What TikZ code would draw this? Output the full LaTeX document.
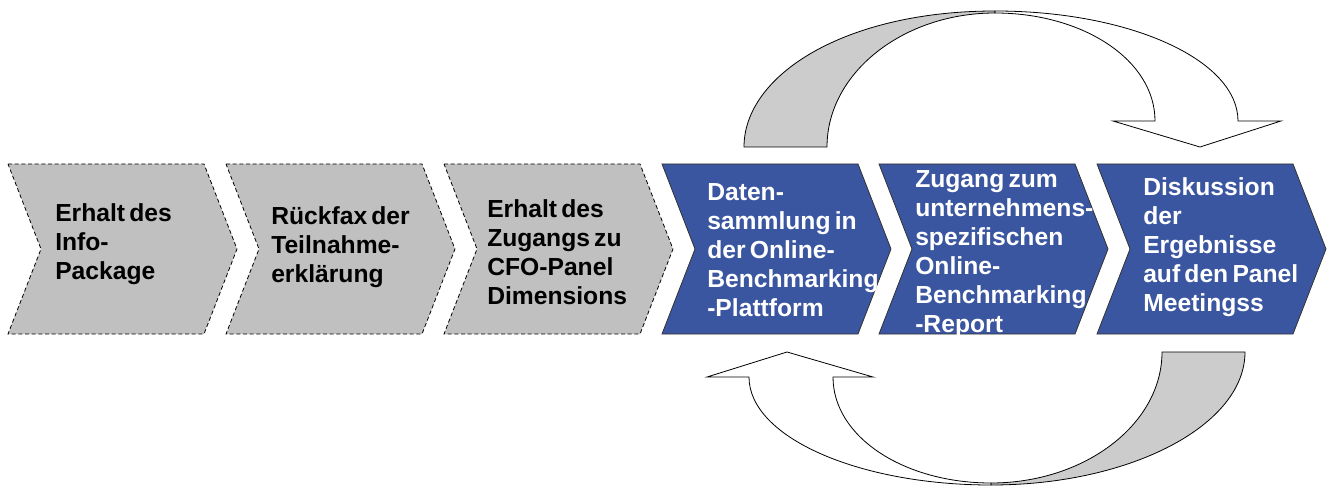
\documentclass[tikz,border=0pt]{standalone}
\usepackage{fontspec}
\setmainfont{Liberation Sans}

\definecolor{prozessblau}{RGB}{59,86,160}
\definecolor{prozessgrau}{RGB}{192,192,192}
\definecolor{pfeilgrau}{RGB}{204,204,204}

\newcommand{\schrift}{\bfseries\fontsize{18.5}{21.75}\selectfont\spaceskip=.17em}

\tikzset{
  grauschritt/.style = {draw=black, fill=prozessgrau, dash pattern=on 3pt off 2pt, line width=0.6pt},
  blauschritt/.style = {draw=black!80, fill=prozessblau, line width=0.6pt},
  grautext/.style = {anchor=west, align=left, inner sep=0pt, text=black, font=\schrift},
  blautext/.style = {grautext, text=white},
  pfeil/.style = {draw=black, line width=0.6pt, line join=miter}
}

\begin{document}
\begin{tikzpicture}[x=0.75pt, y=-0.75pt]
  \useasboundingbox (0,0) rectangle (1331,488);

  % Prozessschritte
  \foreach \L/\art in {8/grauschritt, 226/grauschritt, 444/grauschritt,
                       662/blauschritt, 879/blauschritt, 1097/blauschritt}
    \draw[\art] (\L,164) -- ++(196,0) -- ++(33,85) -- ++(-33,85)
                -- ++(-196,0) -- ++(33,-85) -- cycle;

  \node[grautext] (info) at (55,244) {Erhalt des\\Info-\\Package};
  \node[grautext] (rueckfax) at (271,247) {Rückfax der\\Teilnahme-\\erklärung};
  \node[grautext] (zugang) at (487,252) {Erhalt des\\Zugangs zu\\CFO-Panel\\Dimensions};
  \node[blautext] (daten) at (707,250) {Daten-\\sammlung in\\der Online-\\Benchmarking\\-Plattform};
  \node[blautext] (report) at (915,254) {Zugang zum\\unternehmens-\\spezifischen\\Online-\\Benchmarking\\-Report};
  \node[blautext] (diskussion) at (1143,247) {Diskussion\\der\\Ergebnisse\\auf den Panel\\Meetingss};

  % oberer Bogenpfeil
  \filldraw[pfeil, fill=pfeilgrau] (744,147) .. controls (744,75) and (845,11) .. (995,11)
    -- (995,13) .. controls (903,13) and (827,73) .. (827,147) -- cycle;
  \filldraw[pfeil, fill=white] (995,11) .. controls (1130,11) and (1238,60) .. (1238,121)
    -- (1281,121) -- (1200,147) -- (1113,121) -- (1155,121)
    .. controls (1155,60) and (1083,13) .. (995,13) -- cycle;

  % unterer Bogenpfeil
  \filldraw[pfeil, fill=pfeilgrau] (1245,352) .. controls (1245,425) and (1131,485) .. (991,485)
    -- (991,483) .. controls (1085,483) and (1162,424) .. (1162,352) -- cycle;
  \filldraw[pfeil, fill=white] (991,485) .. controls (858,485) and (749,437) .. (749,377)
    -- (707,377) -- (787,352) -- (873,377) -- (833,377)
    .. controls (833,437) and (904,483) .. (991,483) -- cycle;
\end{tikzpicture}
\end{document}
